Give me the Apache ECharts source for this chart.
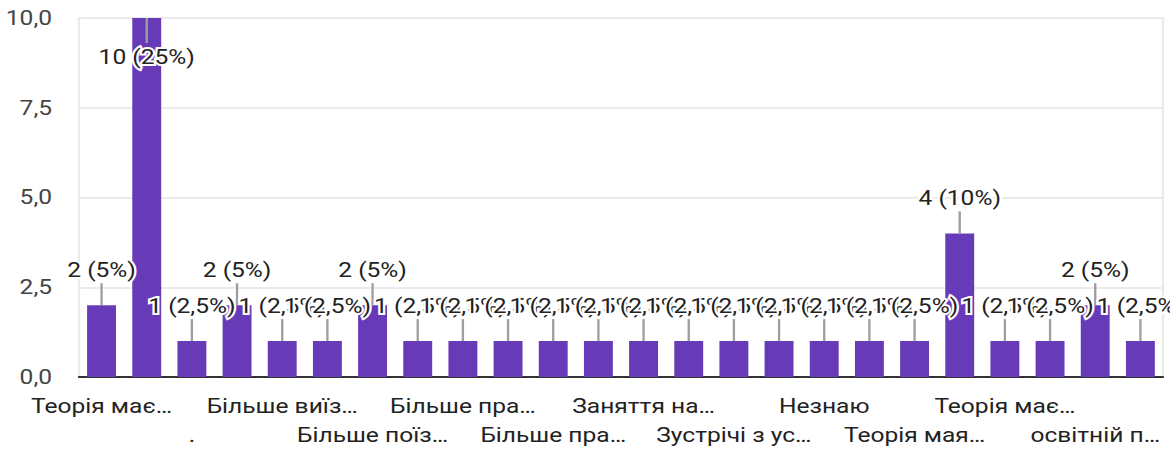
<!DOCTYPE html>
<html>
<head>
<meta charset="utf-8">
<script src="https://cdn.jsdelivr.net/npm/echarts@6/dist/echarts.min.js"></script>
<style>
  html, body { margin: 0; padding: 0; background: #fff; overflow: hidden; }
  #wrap { width: 1170px; height: 450px; overflow: hidden; }
  #chart { width: 1000px; height: 450px; transform: scaleX(1.17); transform-origin: 0 0; }
</style>
</head>
<body>
<div id="wrap"><div id="chart"></div></div>
<script>
// Categories (odd ones are hidden in the reference; their names are guesses)
const categories = [
  'Теорія має…', '-', '.', 'Більше активностей…', 'Більше виїз…', 'Більше екскурсій…',
  'Більше поїз…', 'Більше практики…', 'Більше пра…', 'Більше практичних…', 'Більше пра…', 'Все добре…',
  'Заняття на…', 'Зміни не потрібні…', 'Зустрічі з ус…', 'Мені все подобається…', 'Незнаю', 'Ні…',
  'Теорія мая…', 'Теорія має бути…', 'Теорія має…', 'Усе добре…', 'освітній п…', 'практика…'
];
const counts = [2, 10, 1, 2, 1, 1, 2, 1, 1, 1, 1, 1, 1, 1, 1, 1, 1, 1, 1, 4, 1, 1, 2, 1];
const yTickLabels = ['0,0', '2,5', '5,0', '7,5', '10,0'];

const total = counts.reduce((a, b) => a + b, 0);
const fmtPct = v => {
  const p = v / total * 100;
  return (Math.round(p * 10) / 10).toString().replace('.', ',');
};
const labelTexts = counts.map(v => v + ' (' + fmtPct(v) + '%)');

const FONT = 'Roboto, "Liberation Sans", Arial, sans-serif';
const chart = echarts.init(document.getElementById('chart'), null, { renderer: 'svg' });

chart.setOption({
  animation: false,
  grid: {
    left: 67.5, right: 6, top: 18, bottom: 73,
    outerBoundsMode: 'none',
    containLabel: false,
    show: true, borderColor: '#ebebeb', borderWidth: 2, backgroundColor: 'transparent'
  },
  xAxis: {
    type: 'category',
    data: categories,
    axisLine: { show: true, lineStyle: { color: '#333333', width: 2 } },
    axisTick: { show: false },
    axisLabel: {
      interval: 0,
      hideOverlap: false,
      margin: 15,
      fontSize: 21,
      lineHeight: 29,
      color: '#222222',
      fontFamily: FONT,
      verticalAlign: 'top',
      formatter: (value, index) => {
        if (index % 2 === 1) return '';
        return index % 4 === 2 ? '\n' + value : value;
      }
    }
  },
  yAxis: {
    type: 'value',
    min: 0, max: 10, interval: 2.5,
    axisLine: { show: false },
    axisTick: { show: false },
    splitLine: { show: true, lineStyle: { color: '#ebebeb', width: 2 } },
    axisLabel: {
      margin: 23,
      fontSize: 21,
      color: '#444444',
      fontFamily: FONT,
      formatter: (v, i) => yTickLabels[i]
    }
  },
  series: [
    {
      type: 'bar',
      data: counts,
      barWidth: '64%',
      itemStyle: { color: '#673ab7' },
      z: 2
    },
    {
      type: 'custom',
      z: 5,
      data: counts.map((v, i) => [i, v]),
      renderItem: function (params, api) {
        const i = api.value(0), v = api.value(1);
        const p = api.coord([i, v]);
        const top = params.coordSys.y;
        let y2, ly;
        if (p[1] - 46 < top) { y2 = p[1] + 25; ly = p[1] + 39; }
        else { y2 = p[1] - 22; ly = p[1] - 35; }
        return {
          type: 'group',
          children: [
            { type: 'line', shape: { x1: p[0], y1: p[1], x2: p[0], y2: y2 },
              style: { stroke: '#9e9e9e', lineWidth: 2 } },
            { type: 'text', x: p[0], y: ly,
              style: { text: labelTexts[i], fill: '#222222', fontSize: 21, fontFamily: FONT,
                       align: 'center', verticalAlign: 'middle',
                       stroke: '#ffffff', lineWidth: 4 } }
          ]
        };
      }
    }
  ]
});
</script>
</body>
</html>
